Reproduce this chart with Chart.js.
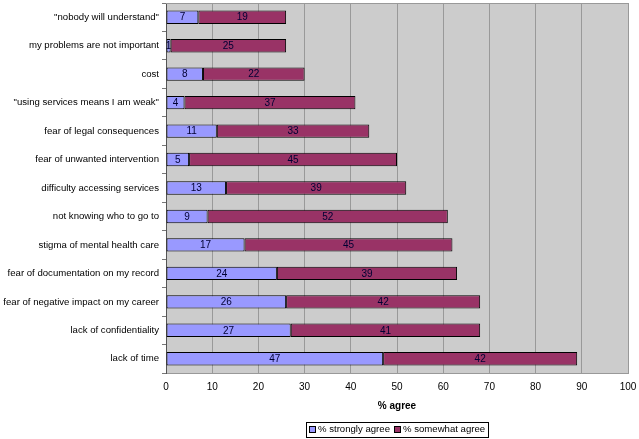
<!DOCTYPE html>
<html>
<head>
<meta charset="utf-8">
<script src="https://cdn.jsdelivr.net/npm/chart.js@4/dist/chart.umd.min.js"></script>
<style>
html,body{margin:0;padding:0;background:#fff;}
#wrap{width:639px;height:439px;}
</style>
</head>
<body>
<div id="wrap"><canvas id="c" width="639" height="439"></canvas></div>
<script>
const categories = [
  '"nobody will understand"',
  'my problems are not important',
  'cost',
  '"using services means I am weak"',
  'fear of legal consequences',
  'fear of unwanted intervention',
  'difficulty accessing services',
  'not knowing who to go to',
  'stigma of mental health care',
  'fear of documentation on my record',
  'fear of negative impact on my career',
  'lack of confidentiality',
  'lack of time'
];
const stronglyAgree = [7, 1, 8, 4, 11, 5, 13, 9, 17, 24, 26, 27, 47];
const somewhatAgree = [19, 25, 22, 37, 33, 45, 39, 52, 45, 39, 42, 41, 42];
const seriesNames = ['% strongly agree', '% somewhat agree'];
const xTicks = [0, 10, 20, 30, 40, 50, 60, 70, 80, 90, 100];
const xTitle = '% agree';

const FONT = '"Liberation Sans", Arial, sans-serif';
const FS = 10;
const FSY = 9.6;
const colors = ['#9999FF', '#993366'];

const plotBg = {
  id: 'plotBg',
  beforeDraw(chart) {
    const {ctx, chartArea: a} = chart;
    ctx.save();
    ctx.fillStyle = '#CCCCCC';
    ctx.fillRect(a.left, a.top, a.right - a.left, a.bottom - a.top);
    ctx.restore();
  },
  afterDatasetsDraw(chart) {
    const {ctx, chartArea: a} = chart;
    ctx.save();
    ctx.strokeStyle = '#999999';
    ctx.lineWidth = 1;
    ctx.beginPath();
    ctx.moveTo(a.left, a.top + 0.5);
    ctx.lineTo(a.right, a.top + 0.5);
    ctx.stroke();
    ctx.restore();
  }
};

const valueLabels = {
  id: 'valueLabels',
  afterDatasetsDraw(chart) {
    const {ctx} = chart;
    ctx.save();
    ctx.font = FS + 'px ' + FONT;
    ctx.fillStyle = '#000033';
    ctx.textAlign = 'center';
    ctx.textBaseline = 'middle';
    chart.data.datasets.forEach((ds, i) => {
      const meta = chart.getDatasetMeta(i);
      meta.data.forEach((bar, j) => {
        const p = bar.getProps(['x', 'y', 'base'], true);
        const cx = (p.x + p.base) / 2;
        ctx.fillText(String(ds.data[j]), cx, p.y + 0.5);
      });
    });
    ctx.restore();
  }
};

const boxLegend = {
  id: 'boxLegend',
  afterDraw(chart) {
    const {ctx, chartArea: a} = chart;
    ctx.save();
    ctx.font = FSY + 'px ' + FONT;
    const sw = 6, gap = 3, itemGap = 4, padX = 3;
    const widths = seriesNames.map(n => sw + gap + ctx.measureText(n).width);
    const total = widths.reduce((s, w) => s + w, 0) + itemGap * (seriesNames.length - 1) + padX * 2;
    const cx = (a.left + a.right) / 2;
    const cy = 429;
    const x0 = Math.round(cx - total / 2);
    const h = 15;
    ctx.strokeStyle = '#000000';
    ctx.lineWidth = 1;
    ctx.strokeRect(x0 + 0.5, Math.round(cy - h / 2) + 0.5, Math.round(total), h);
    let x = x0 + padX;
    seriesNames.forEach((n, i) => {
      const sy = Math.round(cy - sw / 2) + 0.5;
      ctx.fillStyle = colors[i];
      ctx.fillRect(x + 0.5, sy, sw, sw);
      ctx.strokeStyle = '#000000';
      ctx.strokeRect(x + 0.5, sy, sw, sw);
      ctx.fillStyle = '#000000';
      ctx.textAlign = 'left';
      ctx.textBaseline = 'middle';
      ctx.fillText(n, x + sw + gap, cy + 0.5);
      x += widths[i] + itemGap;
    });
    ctx.restore();
  }
};

new Chart(document.getElementById('c'), {
  type: 'bar',
  data: {
    labels: categories,
    datasets: [
      {label: seriesNames[0], data: stronglyAgree, backgroundColor: colors[0], borderColor: '#000000', borderWidth: 1, borderSkipped: false, barPercentage: 0.47, categoryPercentage: 1},
      {label: seriesNames[1], data: somewhatAgree, backgroundColor: colors[1], borderColor: '#000000', borderWidth: 1, borderSkipped: false, barPercentage: 0.47, categoryPercentage: 1}
    ]
  },
  plugins: [plotBg, valueLabels, boxLegend],
  options: {
    responsive: false,
    animation: false,
    indexAxis: 'y',
    layout: {padding: {top: 3, right: 11, left: 0, bottom: 24}},
    plugins: {legend: {display: false}, tooltip: {enabled: false}},
    scales: {
      x: {
        stacked: true,
        min: 0, max: 100,
        afterBuildTicks(scale) { scale.ticks = xTicks.map(v => ({value: v})); },
        afterFit(scale) { scale.height = 42; scale.paddingLeft = 0; scale.paddingRight = 0; },
        grid: {color: '#999999', drawTicks: false, lineWidth: 1},
        border: {color: '#999999'},
        ticks: {color: '#000000', font: {size: FS, family: FONT}, padding: 8, maxRotation: 0},
        title: {display: true, text: xTitle, color: '#000000', font: {size: FS, weight: 'bold', family: FONT}, padding: {top: 4, bottom: 3}}
      },
      y: {
        stacked: true,
        afterFit(scale) { scale.width = 166; scale.paddingTop = 0; scale.paddingBottom = 0; },
        grid: {drawOnChartArea: false, drawTicks: true, tickLength: 4, color: '#777777', offset: true},
        border: {color: '#555555'},
        ticks: {color: '#000000', font: {size: FSY, family: FONT}, padding: 3, autoSkip: false}
      }
    }
  }
});
</script>
</body>
</html>
